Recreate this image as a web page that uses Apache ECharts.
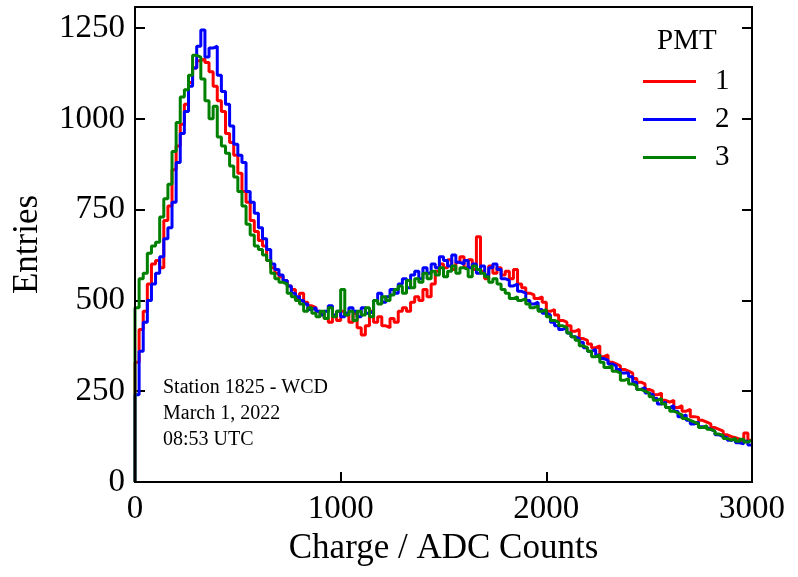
<!DOCTYPE html>
<html>
<head>
<meta charset="utf-8">
<script src="https://cdn.jsdelivr.net/npm/echarts@6/dist/echarts.min.js"></script>
<style>
  html, body { margin: 0; padding: 0; background: #fff; }
  #chart { width: 798px; height: 577px; }
</style>
</head>
<body>
<div id="chart"></div>
<script>
// histogram settings
const binWidth = 20
const xTicks = [0, 1000, 2000, 3000]
const yTicks = [0, 250, 500, 750, 1000, 1250]
const pmtNames = ['1', '2', '3']
const pmtColors = ['#ff0000', '#0000ff', '#008000']
const infoLines = ['Station 1825 - WCD', 'March 1, 2022', '08:53 UTC']

// entries per 20 ADC bin
const pmt1 = [
  330, 420, 470, 545, 600, 610, 590, 720, 760, 860,
  925, 985, 1040, 1100, 1140, 1160, 1165, 1155, 1130, 1090,
  1050, 1020, 960, 935, 900, 850, 800, 770, 720, 690,
  665, 650, 610, 590, 575, 565, 555, 540, 530, 505,
  520, 495, 485, 480, 470, 462, 450, 440, 458, 445,
  470, 460, 440, 465, 425, 405, 430, 470, 440, 455,
  430, 425, 450, 440, 470, 480, 470, 495, 510, 500,
  530, 510, 545, 580, 600, 590, 612, 585, 605, 620,
  590, 612, 585, 675, 580, 560, 595, 575, 590, 570,
  580, 560, 585, 545, 535, 520, 515, 505, 510, 495,
  470, 475, 460, 445, 440, 430, 415, 420, 395, 390,
  380, 370, 375, 345, 350, 330, 325, 320, 310, 305,
  300, 285, 275, 270, 255, 250, 240, 245, 225, 220,
  225, 205, 210, 195, 200, 180, 178, 170, 165, 160,
  150, 145, 140, 130, 125, 122, 118, 112, 135, 115
]
const pmt2 = [
  240, 360, 440, 500, 545, 575, 620, 670, 700, 770,
  880, 960, 1020, 1090, 1140, 1200, 1245, 1170, 1195, 1200,
  1120, 1075, 1040, 980, 930, 900, 880, 800, 770, 740,
  700, 670, 640, 600, 585, 570, 555, 540, 520, 510,
  500, 490, 475, 480, 470, 460, 470, 485, 460, 470,
  455, 465, 480, 470, 455, 480, 465, 470, 500, 520,
  495, 510, 530, 520, 545, 560, 535, 570, 580, 560,
  590, 575, 600, 590, 620, 610, 595, 625, 605, 600,
  610, 590, 600, 575, 595, 570, 590, 600, 585, 560,
  555, 540, 545, 525, 520, 500, 490, 495, 475, 465,
  460, 440, 430, 420, 425, 410, 400, 395, 385, 370,
  360, 365, 350, 340, 335, 325, 320, 310, 300, 300,
  290, 275, 255, 260, 245, 240, 230, 215, 220, 205,
  210, 195, 180, 185, 170, 160, 165, 152, 150, 145,
  140, 130, 125, 122, 115, 118, 108, 105, 112, 102
]
const pmt3 = [
  480, 560, 575, 630, 650, 660, 730, 780, 820, 910,
  990, 1060, 1080, 1120, 1175, 1170, 1110, 1050, 1000, 1035,
  950, 925, 905, 870, 840, 800, 760, 710, 680, 650,
  640, 625, 610, 575, 560, 550, 545, 520, 510, 500,
  490, 470, 480, 465, 455, 470, 450, 480, 455, 470,
  530, 460, 470, 445, 470, 460, 480, 455, 500, 490,
  510, 500, 515, 530, 540, 520, 555, 535, 560, 550,
  575, 560, 580, 570, 590, 565, 580, 595, 575, 590,
  585, 565, 595, 585, 575, 565, 550, 560, 545, 530,
  520, 505, 510, 500, 505, 490, 480, 485, 470, 475,
  455, 445, 440, 430, 425, 410, 400, 390, 375, 370,
  360, 345, 350, 330, 315, 320, 305, 300, 280, 285,
  270, 265, 255, 250, 245, 235, 225, 230, 215, 205,
  195, 190, 185, 175, 170, 165, 160, 150, 155, 145,
  140, 132, 128, 120, 115, 120, 112, 118, 110, 115
]

const font = '"Liberation Serif", "DejaVu Serif", serif'

// 把计数转成阶梯线的点 [左边界, 计数]
function toSteps(counts) {
  const pts = [[0, 0]]
  counts.forEach((c, i) => {
    pts.push([i * binWidth, c])
  })
  pts.push([counts.length * binWidth, counts[counts.length - 1]])
  return pts
}

const allCounts = [pmt1, pmt2, pmt3]

const chart = echarts.init(document.getElementById('chart'))

const option = {
  animation: false,
  backgroundColor: '#fff',
  grid: {
    left: 135, right: 46, top: 7, bottom: 95,
    show: true, borderColor: '#000', borderWidth: 2, z: 10
  },
  legend: {
    data: pmtNames,
    orient: 'vertical',
    left: 643,
    top: 67,
    padding: 0,
    icon: 'rect',
    itemWidth: 53,
    itemHeight: 3,
    itemGap: 9,
    textStyle: { fontFamily: font, fontSize: 29, color: '#000', padding: [0, 0, 0, 14] }
  },
  graphic: [
    {
      type: 'text', left: 657, top: 27,
      style: { text: 'PMT', font: '29px ' + font, fill: '#000' }
    },
    {
      type: 'text', left: 163, top: 375,
      style: { text: infoLines.join('\n'), font: '20px ' + font, lineHeight: 26, fill: '#000' }
    }
  ],
  xAxis: [
    {
      type: 'value', min: 0, max: 3000, interval: 1000,
      name: 'Charge / ADC Counts', nameLocation: 'middle', nameGap: 48,
      nameTextStyle: { fontFamily: font, fontSize: 35, color: '#000' },
      axisLine: { show: true, lineStyle: { color: '#000', width: 2 } },
      axisTick: { show: true, inside: true, length: 10, lineStyle: { color: '#000', width: 2 } },
      axisLabel: {
        fontFamily: font, fontSize: 33, color: '#000', margin: 11,
        formatter: v => (xTicks.includes(v) ? String(v) : '')
      },
      splitLine: { show: false }
    }
  ],
  yAxis: [
    {
      type: 'value', min: 0, max: 1308, interval: 250,
      name: 'Entries', nameLocation: 'middle', nameGap: 90,
      nameTextStyle: { fontFamily: font, fontSize: 35, color: '#000' },
      axisLine: { show: true, lineStyle: { color: '#000', width: 2 } },
      axisTick: { show: true, inside: true, length: 10, lineStyle: { color: '#000', width: 2 } },
      axisLabel: {
        fontFamily: font, fontSize: 33, color: '#000', margin: 10,
        formatter: v => (yTicks.includes(v) ? String(v) : '')
      },
      splitLine: { show: false }
    },
    {
      type: 'value', min: 0, max: 1308, interval: 250, position: 'right',
      axisLine: { show: true, lineStyle: { color: '#000', width: 2 } },
      axisTick: { show: true, inside: true, length: 10, lineStyle: { color: '#000', width: 2 } },
      axisLabel: { show: false },
      splitLine: { show: false }
    }
  ],
  series: allCounts.map((counts, i) => ({
    name: pmtNames[i],
    type: 'line',
    step: 'end',
    showSymbol: false,
    color: pmtColors[i],
    lineStyle: { color: pmtColors[i], width: 3 },
    data: toSteps(counts)
  }))
}

chart.setOption(option)
</script>
</body>
</html>
